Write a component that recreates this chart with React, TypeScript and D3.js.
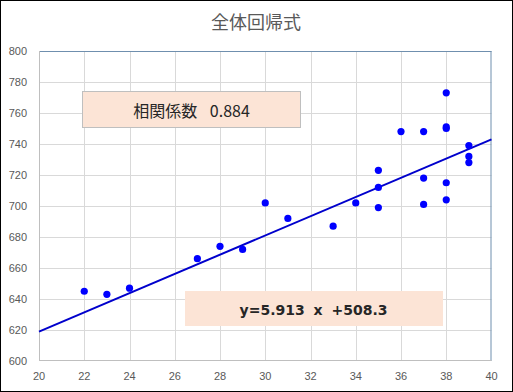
import React, { useEffect, useRef } from "react";
import * as d3 from "d3";

const title = "全体回帰式";
const xValues = [22, 23, 24, 27, 28, 29, 30, 31, 33, 34, 35, 35, 35, 36, 37, 37, 37, 38, 38, 38, 38, 38, 39, 39, 39];
const yValues = [645, 643, 647, 666, 674, 672, 702, 692, 687, 702, 723, 712, 699, 748, 748, 718, 701, 773, 751, 750, 715, 704, 739, 732, 728];
const trendX = [20, 40];
const trendY = [619, 743];
const xTicks = [20, 22, 24, 26, 28, 30, 32, 34, 36, 38, 40];
const yTicks = [600, 620, 640, 660, 680, 700, 720, 740, 760, 780, 800];
const corrLabel = "相関係数 0.884";
const eqLabel = "y=5.913 x +508.3";

const App = () => {
  const ref = useRef<SVGSVGElement>(null);

  useEffect(() => {
    const width = 513;
    const height = 392;
    const margin = { top: 51, right: 21.5, bottom: 31, left: 39 };

    const svg = d3.select(ref.current);
    svg.selectAll("*").remove();
    svg.attr("width", width).attr("height", height);

    svg
      .append("rect")
      .attr("x", 0.5)
      .attr("y", 0.5)
      .attr("width", width - 1)
      .attr("height", height - 1)
      .attr("fill", "#fff")
      .attr("stroke", "#000");

    svg
      .append("text")
      .attr("x", 256)
      .attr("y", 29)
      .attr("text-anchor", "middle")
      .attr("font-family", "'Noto Sans CJK JP', sans-serif")
      .attr("font-size", 18)
      .attr("fill", "#595959")
      .text(title);

    const x = d3.scaleLinear().domain([20, 40]).range([margin.left, width - margin.right]);
    const y = d3.scaleLinear().domain([600, 800]).range([height - margin.bottom, margin.top]);

    // grid
    const grid = svg.append("g").attr("stroke", "#d9d9d9").attr("stroke-width", 1);
    xTicks.slice(1, -1).forEach((t) => {
      grid.append("line").attr("x1", Math.round(x(t)) + 0.5).attr("x2", Math.round(x(t)) + 0.5)
        .attr("y1", y(600)).attr("y2", y(800));
    });
    yTicks.slice(1, -1).forEach((t) => {
      grid.append("line").attr("y1", Math.round(y(t)) + 0.5).attr("y2", Math.round(y(t)) + 0.5)
        .attr("x1", x(20)).attr("x2", x(40));
    });

    // plot border: top/right bluish, left/bottom gray axes
    svg.append("line").attr("x1", x(20)).attr("x2", x(40)).attr("y1", y(800) + 0.5).attr("y2", y(800) + 0.5)
      .attr("stroke", "#6f8fae");
    svg.append("line").attr("x1", x(40) - 0.5).attr("x2", x(40) - 0.5).attr("y1", y(800)).attr("y2", y(600))
      .attr("stroke", "#6f8fae");
    svg.append("line").attr("x1", x(20) + 0.5).attr("x2", x(20) + 0.5).attr("y1", y(800)).attr("y2", y(600))
      .attr("stroke", "#bfbfbf");
    svg.append("line").attr("x1", x(20)).attr("x2", x(40)).attr("y1", y(600) - 0.5).attr("y2", y(600) - 0.5)
      .attr("stroke", "#bfbfbf");

    // tick labels
    svg.append("g").selectAll("text").data(yTicks).join("text")
      .attr("x", 27)
      .attr("y", (d) => y(d) + 4)
      .attr("text-anchor", "end")
      .attr("font-family", "'Liberation Sans', Arial, sans-serif")
      .attr("font-size", 11)
      .attr("fill", "#595959")
      .text((d) => d);

    svg.append("g").selectAll("text").data(xTicks).join("text")
      .attr("x", (d) => x(d))
      .attr("y", 380)
      .attr("text-anchor", "middle")
      .attr("font-family", "'Liberation Sans', Arial, sans-serif")
      .attr("font-size", 11)
      .attr("fill", "#595959")
      .text((d) => d);

    // trend line
    const line = d3.line<number>().x((d) => x(d)).y((d, i) => y(trendY[i]));
    svg.append("path")
      .datum(trendX)
      .attr("fill", "none")
      .attr("stroke", "#0000cc")
      .attr("stroke-width", 2)
      .attr("d", line);

    // points
    svg.append("g").selectAll("circle").data(xValues).join("circle")
      .attr("cx", (d) => x(d))
      .attr("cy", (d, i) => y(yValues[i]))
      .attr("r", 3.6)
      .attr("fill", "#0000ff");

    // correlation box
    svg.append("rect")
      .attr("x", 82.5).attr("y", 91.5).attr("width", 218).attr("height", 36)
      .attr("fill", "#fce4d6").attr("stroke", "#bfbfbf");
    svg.append("text")
      .attr("x", 191.5).attr("y", 117)
      .attr("text-anchor", "middle")
      .attr("font-family", "'Noto Sans CJK JP', sans-serif")
      .attr("font-size", 16)
      .attr("fill", "#262626")
      .attr("word-spacing", 9)
      .text(corrLabel);

    // equation box
    svg.append("rect")
      .attr("x", 185).attr("y", 291).attr("width", 258).attr("height", 35)
      .attr("fill", "#fce4d6");
    svg.append("text")
      .attr("x", 313.5).attr("y", 315)
      .attr("text-anchor", "middle")
      .attr("font-family", "'DejaVu Sans', Verdana, sans-serif")
      .attr("font-size", 14)
      .attr("font-weight", "bold")
      .attr("word-spacing", 4)
      .attr("fill", "#262626")
      .text(eqLabel);
  }, []);

  return (
    <svg ref={ref} style={{ position: "absolute", left: 0, top: 0, display: "block" }}></svg>
  );
};

export default App;
